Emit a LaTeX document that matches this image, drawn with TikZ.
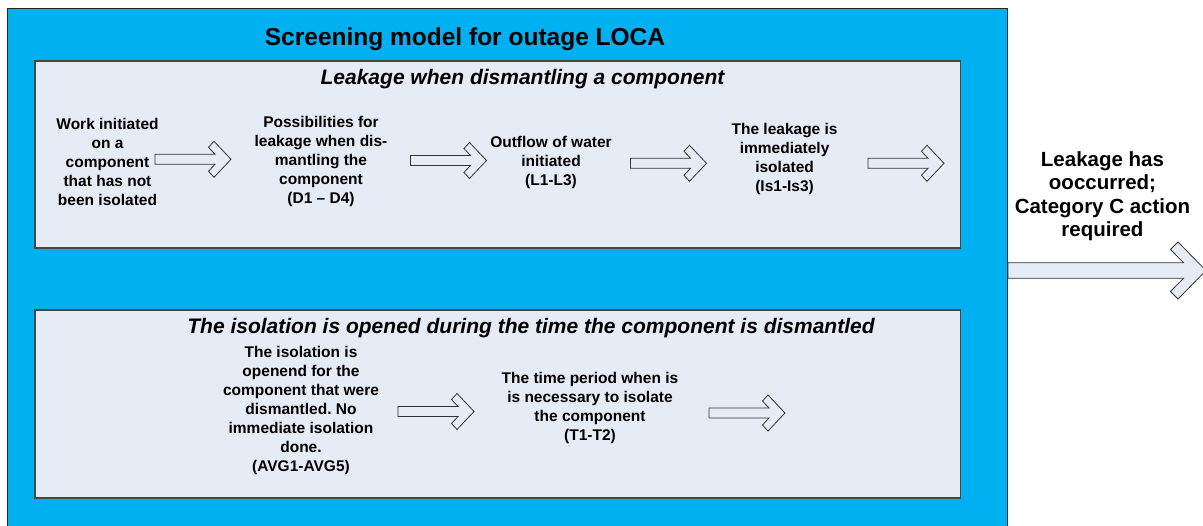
\documentclass[tikz,border=0pt]{standalone}
\usepackage{fontspec}
\setmainfont{Liberation Sans}
\frenchspacing
\definecolor{outerblue}{RGB}{0,176,240}
\definecolor{panelfill}{RGB}{230,236,246}
\definecolor{paneledge}{RGB}{70,70,70}
\tikzset{
  outerbox/.style={fill=outerblue, draw=black!85, line width=1pt},
  panelbox/.style={fill=panelfill, draw=paneledge, line width=1.1pt},
  blockarrow/.style={fill=panelfill, draw=black!80, line width=0.8pt, line join=miter},
  steptext/.style={font=\bfseries\fontsize{15.5}{19}\selectfont, align=center, inner sep=0pt, text=black},
  titletext/.style={font=\bfseries\fontsize{24.5}{29}\selectfont, inner sep=0pt},
  subtitletext/.style={font=\bfseries\itshape\fontsize{21}{25}\selectfont, inner sep=0pt},
  resulttext/.style={font=\bfseries\fontsize{20.5}{23.5}\selectfont, align=center, inner sep=0pt},
  smallarrow/.pic={\draw[blockarrow] (-76,-5) -- (-16,-5) -- (-22.5,-12) -- (-17,-18) -- (0,0) -- (-17,18) -- (-22.5,12) -- (-16,5) -- (-76,5) -- cycle;},
  bigarrow/.pic={\draw[blockarrow] (-198,-7.8) -- (-22.5,-7.8) -- (-35.5,-21) -- (-28,-28.5) -- (0,0) -- (-28,28.5) -- (-35.5,21) -- (-22.5,7.8) -- (-198,7.8) -- cycle;}
}
\begin{document}
\begin{tikzpicture}[x=1pt,y=-1pt]
\useasboundingbox (0,0) rectangle (1203,526);
\fill[white] (0,0) rectangle (1203,526);
% outer screening box
\draw[outerbox] (7.3,8.3) rectangle (1007.7,527);
\node[titletext, anchor=base] (title) at (465,46) {Screening model for outage LOCA};
% panels
\draw[panelbox] (35,61) rectangle (960.5,248);
\draw[panelbox] (35,310) rectangle (960.5,498);
\node[subtitletext, anchor=base] (sub1) at (522.5,85) {Leakage when dismantling a component};
\node[subtitletext, anchor=base] (sub2) at (531,333.3) {The isolation is opened during the time the component is dismantled};
% row 1 steps
\node[steptext] (n1) at (107.5,161.5) {Work initiated\\on a\\component\\that has not\\been isolated};
\node[steptext] (n2) at (321,161.5) {Possibilities for\\leakage when dis-\\mantling the\\component\\(D1 – D4)};
\node[steptext] (n3) at (551,162) {Outflow of water\\initiated\\(L1-L3)};
\node[steptext] (n4) at (784.6,158.5) {The leakage is\\immediately\\isolated\\(Is1-Is3)};
% row 2 steps
\node[steptext] (n5) at (301,410) {The isolation is\\openend for the\\component that were\\dismantled. No\\immediate isolation\\done.\\(AVG1-AVG5)};
\node[steptext] (n6) at (590,408) {The time period when is\\is necessary to isolate\\the component\\(T1-T2)};
% result
\node[resulttext] (res) at (1102.5,196) {Leakage has\\ooccurred;\\Category C action\\required};
% arrow tips
\coordinate (a1) at (231,159.3);
\coordinate (a2) at (486.5,160.5);
\coordinate (a3) at (706.5,163.3);
\coordinate (a4) at (944,163.3);
\coordinate (a5) at (474,411.5);
\coordinate (a6) at (785,413);
\coordinate (ab) at (1206,270.5);
\foreach \c in {a1,a2,a3,a4,a5,a6} { \pic at (\c) {smallarrow}; }
\pic at (ab) {bigarrow};
\end{tikzpicture}
\end{document}
